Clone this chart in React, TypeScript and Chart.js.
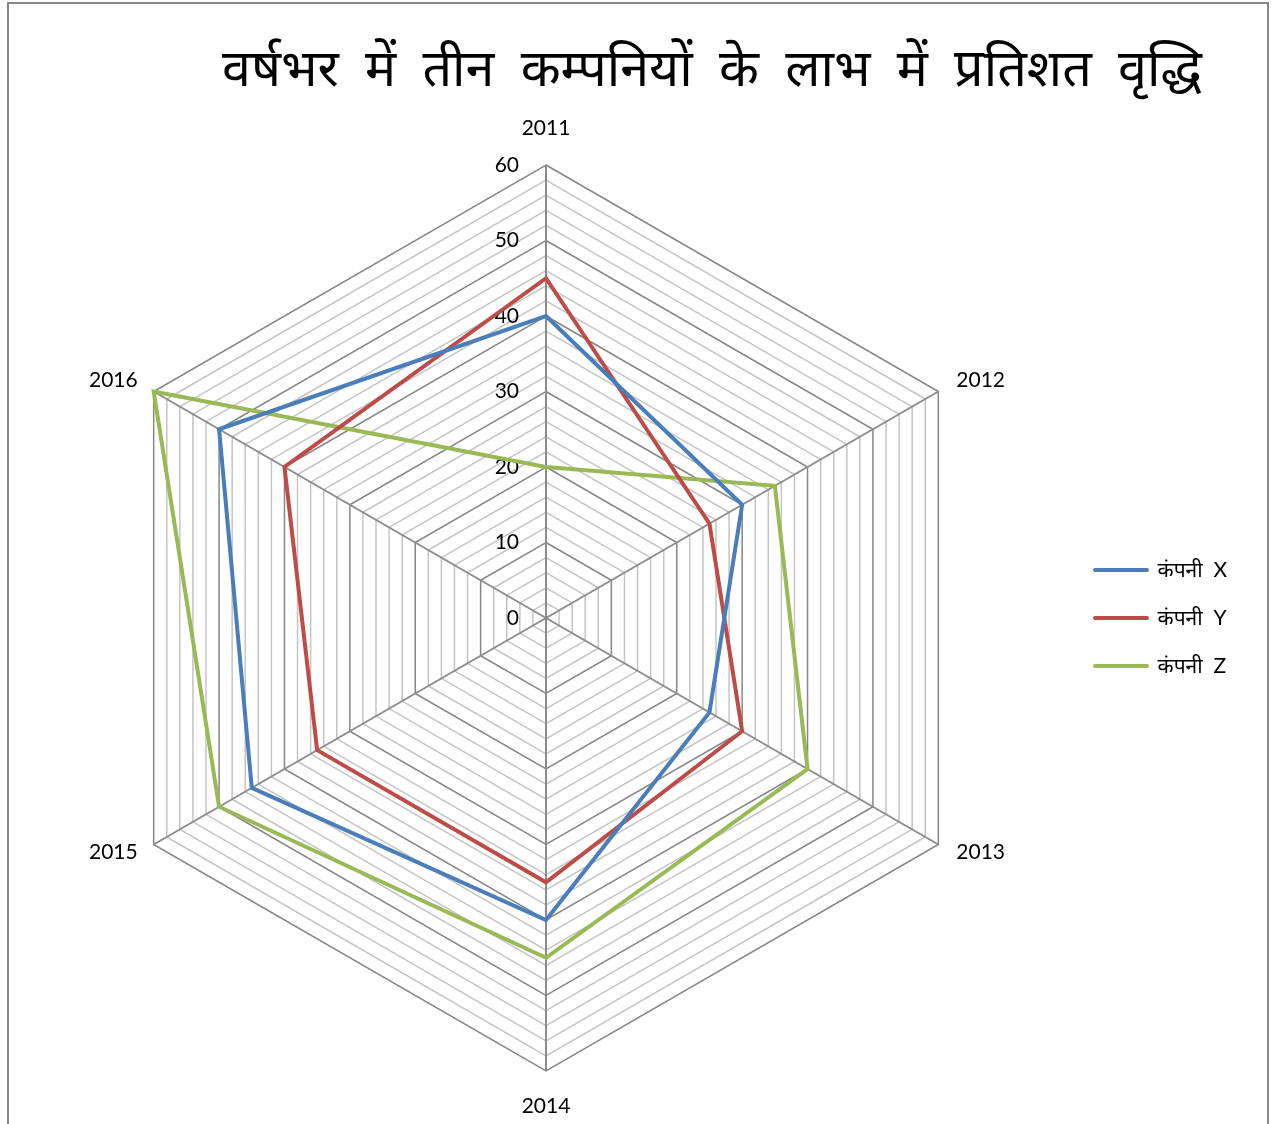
import React, { useEffect, useRef } from 'react';
import { Chart, registerables } from 'chart.js';

Chart.register(...registerables);

const titleWords = ['वर्षभर', 'में', 'तीन', 'कम्पनियों', 'के', 'लाभ', 'में', 'प्रतिशत', 'वृद्धि'];
const years = ['2011', '2012', '2013', '2014', '2015', '2016'];
const companyX = [40, 30, 25, 40, 45, 50];
const companyY = [45, 25, 30, 35, 35, 40];
const companyZ = [20, 35, 40, 45, 50, 60];
const seriesNames = ['कंपनी  X', 'कंपनी  Y', 'कंपनी  Z'];
const seriesColors = ['#4A7EBB', '#BE4B48', '#98B954'];
const axisMin = 0;
const axisMax = 60;
const minorStep = 2;
const majorStep = 10;

const FONT = "Lato, 'Noto Sans', sans-serif";

export default function App() {
  const ref = useRef<HTMLCanvasElement>(null);

  useEffect(() => {
    const canvas = ref.current;
    if (!canvas) return;

    const framePlugin = {
      id: 'frame',
      beforeDraw(chart: any) {
        const c = chart.ctx;
        c.save();
        c.fillStyle = '#ffffff';
        c.fillRect(0, 0, chart.width, chart.height);
        c.strokeStyle = '#878787';
        c.lineWidth = 2;
        c.beginPath();
        c.moveTo(8, chart.height + 10);
        c.lineTo(8, 3);
        c.lineTo(1268, 3);
        c.lineTo(1268, chart.height + 10);
        c.stroke();
        c.restore();
      },
    };

    const titlePlugin = {
      id: 'customTitle',
      afterDraw(chart: any) {
        const c = chart.ctx;
        c.save();
        c.fillStyle = '#000000';
        c.font = `52px ${FONT}`;
        c.textAlign = 'left';
        c.textBaseline = 'middle';
        const widths = titleWords.map((w) => c.measureText(w).width);
        const sum = widths.reduce((a, b) => a + b, 0);
        const totalWidth = 980;
        const gap = Math.max(12, (totalWidth - sum) / (titleWords.length - 1));
        let x = 712 - (sum + gap * (titleWords.length - 1)) / 2;
        titleWords.forEach((w, i) => {
          c.fillText(w, x, 69);
          x += widths[i] + gap;
        });
        c.restore();
      },
    };

    const labelOffsets = [
      { dx: 0, dy: -37, align: 'center' },
      { dx: 18, dy: -11, align: 'left' },
      { dx: 18, dy: 8, align: 'left' },
      { dx: 0, dy: 35, align: 'center' },
      { dx: -16, dy: 8, align: 'right' },
      { dx: -16, dy: -11, align: 'right' },
    ];

    const axisLabelPlugin = {
      id: 'axisLabels',
      beforeDatasetsDraw(chart: any) {
        const scale = chart.scales.r;
        const c = chart.ctx;
        c.save();
        c.fillStyle = '#000000';
        c.font = `21px ${FONT}`;
        c.textBaseline = 'middle';
        c.textAlign = 'right';
        scale.ticks.forEach((t: any) => {
          if (t.value % majorStep !== 0) return;
          const d = scale.getDistanceFromCenterForValue(t.value);
          c.fillText(String(t.value), scale.xCenter - 27, scale.yCenter - d);
        });
        chart.data.labels.forEach((lab: string, i: number) => {
          const p = scale.getPointPosition(i, scale.drawingArea);
          const o = labelOffsets[i];
          c.textAlign = o.align;
          c.fillText(lab, p.x + o.dx, p.y + o.dy);
        });
        c.restore();
      },
    };

    // legend geometry: measure label text so the legend box has its natural width
    const legendFontSize = 21;
    const legendPad = 27;
    const legendBox = 52;
    const mctx = document.createElement('canvas').getContext('2d')!;
    mctx.font = `${legendFontSize}px ${FONT}`;
    const textW = Math.max(...seriesNames.map((s) => mctx.measureText(s).width));
    const legendWidth = legendPad + legendBox + legendFontSize / 2 + textW + 10;
    const legendLeft = 1068;
    const rightPad = Math.max(0, 1274 - legendLeft - legendWidth);
    const leftPad = 2 * 546 - (1274 - rightPad - legendWidth);

    const seriesData = [companyX, companyY, companyZ];

    const chart = new Chart(canvas, {
      type: 'radar',
      data: {
        labels: years,
        datasets: seriesData.map((d, i) => ({
          label: seriesNames[i],
          data: d,
          borderColor: seriesColors[i],
          backgroundColor: seriesColors[i],
          fill: false,
          borderWidth: 4,
          borderJoinStyle: 'miter',
          pointRadius: 0,
          pointHoverRadius: 0,
          tension: 0,
        })),
      },
      options: {
        responsive: false,
        animation: false,
        layout: { padding: { top: 165, bottom: 53, left: leftPad, right: rightPad } },
        scales: {
          r: {
            min: axisMin,
            max: axisMax,
            startAngle: 0,
            ticks: { stepSize: minorStep, display: false },
            grid: {
              color: (ctx: any) =>
                ctx.tick && ctx.tick.value % majorStep === 0 ? '#868686' : '#C4C4C4',
              lineWidth: 1.5,
            },
            angleLines: { color: '#8C8C8C', lineWidth: 2 },
            pointLabels: { display: false },
          },
        },
        plugins: {
          title: { display: false },
          tooltip: { enabled: false },
          legend: {
            display: true,
            position: 'right',
            align: 'center',
            labels: {
              boxWidth: legendBox,
              boxHeight: 0,
              padding: legendPad,
              color: '#000000',
              font: { family: FONT, size: legendFontSize },
              generateLabels: (ch: any) =>
                ch.data.datasets.map((ds: any, i: number) => ({
                  text: ds.label,
                  fillStyle: ds.borderColor,
                  strokeStyle: ds.borderColor,
                  lineWidth: 4,
                  lineCap: 'round',
                  lineJoin: 'round',
                  hidden: false,
                  datasetIndex: i,
                  fontColor: '#000000',
                })),
            },
          },
        },
      },
      plugins: [framePlugin, axisLabelPlugin, titlePlugin],
    } as any);

    return () => chart.destroy();
  }, []);

  return (
    <div style={{ position: 'absolute', left: 0, top: 0, width: 1274, height: 1124, overflow: 'hidden' }}>
      <canvas ref={ref} width={1274} height={1124} style={{ display: 'block' }} />
    </div>
  );
}
